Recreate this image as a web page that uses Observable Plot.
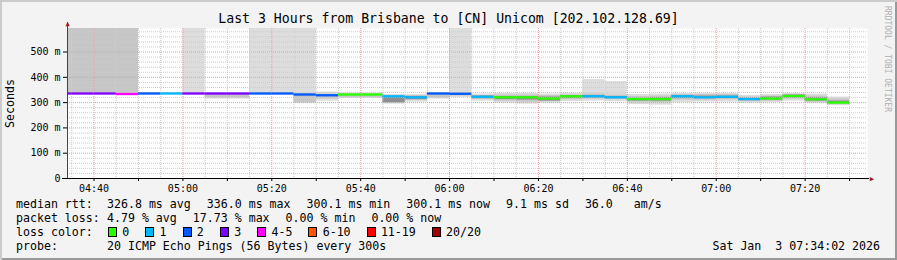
<!DOCTYPE html>
<html>
<head>
<meta charset="utf-8">
<script src="https://cdn.jsdelivr.net/npm/d3@7"></script>
<script src="https://cdn.jsdelivr.net/npm/@observablehq/plot@0.6"></script>
<style>
  html, body { margin:0; padding:0; background:#f3f3f3; }
  #frame { position:relative; width:897px; height:260px; overflow:hidden; background:#f3f3f3;
    font-family:"DejaVu Sans Mono", monospace; color:#000;
    box-shadow: inset 2px 2px 0 #cbcbcb, inset -2px -2px 0 #999; }
  #title { position:absolute; left:0; top:12px; width:897px; text-align:center; font-size:13.2px; line-height:13.2px; white-space:pre; }
  #chart { position:absolute; left:0; top:0; }
  #credit { position:absolute; left:886.5px; top:58.5px; font-size:8px; line-height:8px; color:#b0b0b0; white-space:pre;
    transform: translate(-50%,-50%) rotate(90deg); }
  #legend { position:absolute; left:16px; top:196.5px; width:870px; font-size:11.6px; line-height:14.1px; white-space:pre; }
  .row { position:relative; height:14.1px; }
  .lab { display:inline-block; width:91px; }
  .item { display:inline-block; margin-right:16px; }
  .box { display:inline-block; width:7px; height:8px; border:1px solid #000; margin-right:5.3px; vertical-align:-1px; }
  .date { position:absolute; right:6px; top:0; }
</style>
</head>
<body>
<div id="frame">
  <div id="title"></div>
  <div id="chart"></div>
  <div id="credit"></div>
  <div id="legend"></div>
</div>
<script>
// ---------- data ----------
const titleText = "Last 3 Hours from Brisbane to [CN] Unicom [202.102.128.69]";
const creditText = "RRDTOOL / TOBI OETIKER";
const yLabel = "Seconds";
const chartDay = [2026, 0, 3];
const rangeStart = "04:34:02";
const rangeEnd = "07:34:02";
const stepMinutes = 5;

const intervalEnds = ["04:35","04:40","04:45","04:50","04:55","05:00","05:05","05:10","05:15","05:20","05:25","05:30",
  "05:35","05:40","05:45","05:50","05:55","06:00","06:05","06:10","06:15","06:20","06:25","06:30",
  "06:35","06:40","06:45","06:50","06:55","07:00","07:05","07:10","07:15","07:20","07:25","07:30"];
const medianMs = [336,336,336,334,336,336,336,336,336,336,336,332,
  329,332,332,325,321,336,335,323,321,321,316,325,
  325,321,314,314,325,321,323,314,316,326,313,300.1];
const lostPings = [3,3,3,4,2,1,3,3,3,2,2,2,
  2,0,0,1,1,2,2,1,0,0,0,0,
  1,1,0,0,1,1,1,1,0,0,0,0];
const smokeMin = [332,332,332,328,334,334,334,314,314,334,334,296,
  306,316,316,294,302,314,320,306,298,294,298,304,
  306,304,292,290,300,302,302,298,300,306,296,288];
const smokeMax = [700,700,700,700,338,338,700,338,338,700,700,700,
  342,338,338,332,332,340,700,334,336,336,334,336,
  391,383,332,334,336,336,336,328,332,336,334,322];
const coreLo = [334,334,334,331,335,335,335,318,318,335,335,300,
  314,320,320,298,308,318,326,312,306,302,304,312,
  314,312,302,300,310,310,312,304,306,314,302,292];
const coreHi = [700,700,700,700,337,337,338,336,336,338,338,336,
  334,334,334,328,328,336,338,328,330,330,328,330,
  334,330,324,326,332,332,332,322,326,332,326,314];
const darkLo = [null,null,null,null,null,null,null,null,null,null,null,null,
  null,null,null,300,312,null,null,316,312,310,306,316,
  318,316,306,306,316,316,316,308,310,318,306,296];
const darkHi = [null,null,null,null,null,null,null,null,null,null,null,null,
  null,null,null,324,324,null,null,326,324,324,322,328,
  328,324,318,320,328,326,326,318,322,330,320,306];

const yMax = 593;
const yTicks = [0,100,200,300,400,500];
const yTickLabels = ["0","100 m","200 m","300 m","400 m","500 m"];
const xTickLabels = ["04:40","05:00","05:20","05:40","06:00","06:20","06:40","07:00","07:20"];

const lossLabels = ["0","1","2","3","4-5","6-10","11-19","20/20"];
const lossColors = ["#26ff00","#00b8ff","#0059ff","#7e00ff","#ff00ff","#ff5500","#ff0000","#a00000"];

const statsRtt = ["326.8 ms avg","336.0 ms max","300.1 ms min","300.1 ms now","9.1 ms sd","36.0   am/s"];
const statsLoss = ["4.79 % avg","17.73 % max","0.00 % min","0.00 % now"];
const probeText = "20 ICMP Echo Pings (56 Bytes) every 300s";
const dateText = "Sat Jan  3 07:34:02 2026";

// ---------- helpers ----------
const at = (hms) => { const p = hms.split(":").map(Number); return new Date(Date.UTC(chartDay[0], chartDay[1], chartDay[2], p[0], p[1], p[2] || 0)); };
const lossLabel = (n) => n <= 3 ? String(n) : n <= 5 ? "4-5" : n <= 10 ? "6-10" : n <= 19 ? "11-19" : "20/20";

const rows = intervalEnds.map((e, i) => {
  const x2 = at(e);
  return {
    x1: new Date(+x2 - stepMinutes * 60000), x2,
    median: medianMs[i], loss: lossLabel(lostPings[i]),
    min: smokeMin[i], max: smokeMax[i],
    coreLo: coreLo[i], coreHi: coreHi[i],
    darkLo: darkLo[i], darkHi: darkHi[i]
  };
});
const dark = rows.filter(r => r.darkLo != null);

const t0 = at(rangeStart), t1 = at(rangeEnd);
const grid5 = d3.utcMinute.every(5).range(t0, t1).filter(d => d.getUTCMinutes() % 20 !== 0);
const grid20 = d3.utcMinute.every(20).range(t0, t1);
const ticks10 = d3.utcMinute.every(10).range(t0, t1);
const hMinor = d3.range(20, yMax, 20).filter(v => v % 100 !== 0);
const hMajor = yTicks.filter(v => v > 0);

const chart = Plot.plot({
  width: 897, height: 200,
  marginLeft: 67, marginRight: 30, marginTop: 28, marginBottom: 22,
  style: { background: "transparent", fontFamily: "DejaVu Sans Mono, monospace", fontSize: "10px", color: "#000", overflow: "visible" },
  x: { type: "utc", domain: [t0, t1], axis: null },
  y: { domain: [0, yMax], axis: null },
  color: { domain: lossLabels, range: lossColors },
  marks: [
    Plot.frame({ fill: "white", stroke: null }),
    Plot.rect(rows, { x1: "x1", x2: "x2", y1: "min", y2: "max", fill: "#dddddd", clip: true }),
    Plot.rect(rows, { x1: "x1", x2: "x2", y1: "coreLo", y2: "coreHi", fill: "#c6c6c6", clip: true }),
    Plot.rect(dark, { x1: "x1", x2: "x2", y1: "darkLo", y2: "darkHi", fill: "#8e8e8e", clip: true }),
    Plot.ruleX(grid5, { stroke: "#c8c8c8", strokeDasharray: "1,1" }),
    Plot.ruleY(hMinor, { stroke: "#cccccc", strokeDasharray: "1,1" }),
    Plot.ruleX(grid20, { stroke: "#ee9a9a", strokeDasharray: "1,1" }),
    Plot.ruleY(hMajor, { stroke: "#ee9a9a", strokeDasharray: "1,1" }),
    Plot.ruleY(rows, { y: "median", x1: "x1", x2: "x2", stroke: "loss", strokeWidth: 2.3, clip: true }),
    Plot.axisY({ ticks: yTicks, tickFormat: d => yTickLabels[yTicks.indexOf(d)], tickSize: 4, tickPadding: 3, label: null, fontSize: 10 }),
    Plot.axisX({ ticks: xTickLabels.map(s => at(s + ":00")), tickFormat: d3.utcFormat("%H:%M"), tickSize: 0, tickPadding: 6, label: null, fontSize: 10 }),
    Plot.axisX({ ticks: ticks10, tickFormat: () => "", tickSize: 3, label: null }),
    Plot.ruleX([t0], { stroke: "#444", insetTop: -6 }),
    Plot.ruleY([0], { stroke: "#000", insetLeft: -5, insetRight: -2 }),
    Plot.text(["▲"], { text: d => d, frameAnchor: "top-left", dy: -4.5, fill: "#9a1a1a", fontSize: 7, textAnchor: "middle", lineAnchor: "middle" }),
    Plot.text(["▶"], { text: d => d, frameAnchor: "bottom-right", dx: 4.3, fill: "#9a1a1a", fontSize: 7, textAnchor: "middle", lineAnchor: "middle" }),
    Plot.text([yLabel], { text: d => d, frameAnchor: "left", dx: -57, rotate: -90, fontSize: 11.6, textAnchor: "middle", lineAnchor: "middle" })
  ]
});
document.getElementById("chart").appendChild(chart);
document.getElementById("title").textContent = titleText;
document.getElementById("credit").textContent = creditText;

// ---------- legend ----------
const legend = document.getElementById("legend");
function row() { const r = document.createElement("div"); r.className = "row"; legend.appendChild(r); return r; }
function span(parent, cls, text) { const s = document.createElement("span"); s.className = cls; if (text != null) s.textContent = text; parent.appendChild(s); return s; }

let r = row(); span(r, "lab", "median rtt:"); statsRtt.forEach(t => span(r, "item", t));
r = row(); span(r, "lab", "packet loss:"); statsLoss.forEach(t => span(r, "item", t));
r = row(); span(r, "lab", "loss color:");
lossLabels.forEach((l, i) => {
  const it = span(r, "item");
  if (i === 0) it.style.marginLeft = "1px";
  const b = span(it, "box"); b.style.background = lossColors[i];
  it.appendChild(document.createTextNode(l));
});
r = row(); span(r, "lab", "probe:"); span(r, "item", probeText); span(r, "date", dateText);
</script>
</body>
</html>
